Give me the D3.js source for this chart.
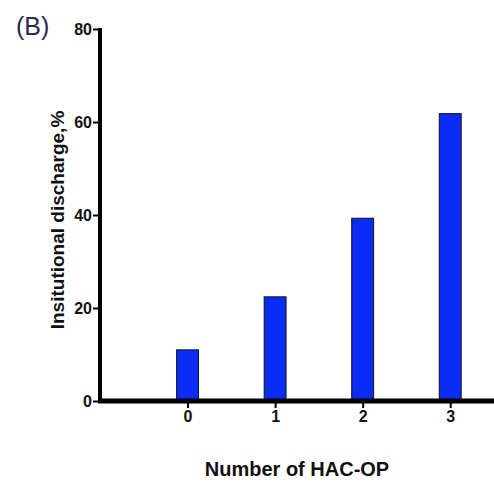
<html>
<head>
<script src="https://d3js.org/d3.v7.min.js"></script>
<style>
  body { margin: 0; background: #fff; }
  text { font-family: "Liberation Sans", Arial, sans-serif; }
</style>
</head>
<body>
<svg id="chart" width="494" height="483"></svg>
<script>
// chart data
var categories = [0, 1, 2, 3];
var values = [11.0, 22.4, 39.3, 61.8];
var yTicks = [0, 20, 40, 60, 80];

var svg = d3.select("#chart");
var x0 = 100, y0 = 401;

var x = d3.scaleLinear().domain([-1, 3.5]).range([x0, 494]);
var y = d3.scaleLinear().domain([0, 80]).range([y0, 29]);
var barW = x(0.125) - x(-0.125);

// bars
svg.append("g").selectAll("rect")
  .data(categories)
  .enter().append("rect")
    .attr("x", function(d) { return x(d) - barW / 2; })
    .attr("y", function(d, i) { return y(values[i]); })
    .attr("width", barW)
    .attr("height", function(d, i) { return y0 - y(values[i]); })
    .attr("fill", "#0a2cf5")
    .attr("stroke", "#111")
    .attr("stroke-width", 1);

// y axis
var yAxis = d3.axisLeft(y).tickValues(yTicks).tickSize(7).tickPadding(1);
var gy = svg.append("g").attr("transform", "translate(" + x0 + ",0)").call(yAxis);
gy.select(".domain").remove();
gy.selectAll(".tick line").attr("stroke", "#000").attr("stroke-width", 2);
gy.selectAll(".tick text").style("font-size", "16px").style("font-weight", "bold").attr("fill", "#111")
  .style("font-family", "'Liberation Sans', Arial, sans-serif");
svg.append("line").attr("x1", x0).attr("x2", x0).attr("y1", y(80) - 1).attr("y2", y0 + 2)
  .attr("stroke", "#000").attr("stroke-width", 4);

// x axis
var xAxis = d3.axisBottom(x).tickValues(categories).tickSize(7).tickPadding(3).tickFormat(d3.format("d"));
var gx = svg.append("g").attr("transform", "translate(0," + y0 + ")").call(xAxis);
gx.select(".domain").remove();
gx.selectAll(".tick line").attr("stroke", "#000").attr("stroke-width", 2);
gx.selectAll(".tick text").style("font-size", "16px").style("font-weight", "bold").attr("fill", "#111")
  .style("font-family", "'Liberation Sans', Arial, sans-serif");
svg.append("line").attr("x1", x0 - 2).attr("x2", 494).attr("y1", y0).attr("y2", y0)
  .attr("stroke", "#000").attr("stroke-width", 5);

// titles
svg.append("text").attr("x", 297).attr("y", 476).attr("text-anchor", "middle")
  .attr("font-size", 20).attr("font-weight", "bold").attr("fill", "#111").text("Number of HAC-OP");
svg.append("text").attr("transform", "translate(64,220) rotate(-90)").attr("text-anchor", "middle")
  .attr("font-size", 19).attr("font-weight", "bold").attr("fill", "#111").text("Insitutional discharge,%");
svg.append("text").attr("x", 16).attr("y", 35)
  .attr("font-size", 25).attr("fill", "#2a2a4a").text("(B)");
</script>
</body>
</html>
